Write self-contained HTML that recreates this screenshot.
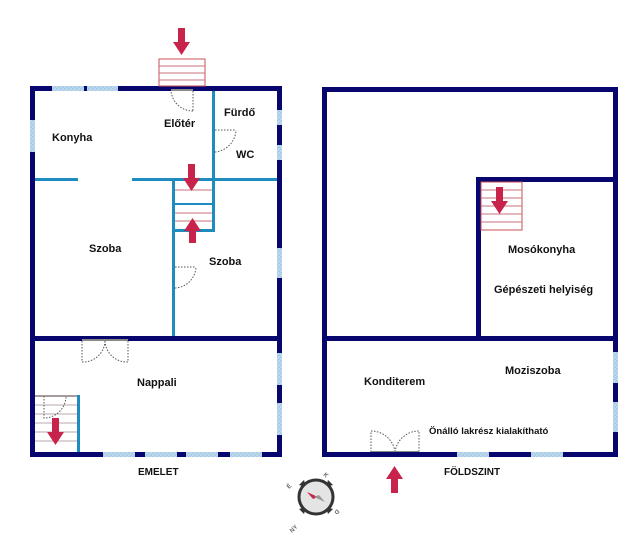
<!DOCTYPE html>
<html><head><meta charset="utf-8"><style>
html,body{margin:0;padding:0;background:#fff;}
svg{display:block;}
text{font-family:"Liberation Sans","DejaVu Sans",sans-serif;font-weight:bold;font-size:11px;fill:#111;}
</style></head><body>
<svg width="640" height="548" viewBox="0 0 640 548" xmlns="http://www.w3.org/2000/svg">
<defs>
<pattern id="h" width="4" height="4" patternUnits="userSpaceOnUse"><rect width="4" height="4" fill="#a9cde6"/><path d="M0 4L4 0" stroke="#c7e0f0" stroke-width="1"/></pattern>
</defs>
<g fill="#06066e">
<rect x="30" y="86" width="252" height="5"/>
<rect x="30" y="86" width="5" height="371"/>
<rect x="277" y="86" width="5" height="371"/>
<rect x="30" y="452" width="252" height="5"/>
<rect x="30" y="336" width="252" height="5"/>
</g>
<g fill="url(#h)">
<rect x="52" y="86" width="32" height="5"/><rect x="87" y="86" width="31" height="5"/>
<rect x="30" y="120" width="5" height="32"/>
<rect x="277" y="110" width="5" height="15"/><rect x="277" y="145" width="5" height="15"/>
<rect x="277" y="248" width="5" height="30"/>
<rect x="277" y="353" width="5" height="32"/><rect x="277" y="403" width="5" height="32"/>
<rect x="103" y="452" width="32" height="5"/><rect x="145" y="452" width="32" height="5"/>
<rect x="186" y="452" width="32" height="5"/><rect x="230" y="452" width="32" height="5"/>
</g>
<g fill="#1f8cc0">
<rect x="35" y="178" width="43" height="3"/>
<rect x="132" y="178" width="145" height="3"/>
<rect x="212" y="91" width="3" height="140"/>
<rect x="172" y="178" width="3" height="158"/>
<rect x="172" y="229" width="43" height="3"/>
<rect x="172" y="203" width="43" height="2"/>
<rect x="77" y="395" width="3" height="57"/>
</g>
<g stroke="#c8707a" stroke-width="1">
<line x1="175" y1="190" x2="212" y2="190"/>
<line x1="175" y1="213" x2="212" y2="213"/>
<line x1="175" y1="221" x2="212" y2="221"/>
</g>
<g stroke="#b8a8a8" stroke-width="1">
<line x1="35" y1="405" x2="77" y2="405"/><line x1="35" y1="414" x2="77" y2="414"/>
<line x1="35" y1="423" x2="77" y2="423"/><line x1="35" y1="432" x2="77" y2="432"/>
<line x1="35" y1="441" x2="77" y2="441"/>
</g>
<line x1="35" y1="396" x2="77" y2="396" stroke="#8a7a7a" stroke-width="1.5"/>
<rect x="159" y="59" width="46" height="27" fill="#fff" stroke="#c8505a" stroke-width="1"/>
<g stroke="#c8707a"><line x1="159" y1="66" x2="205" y2="66"/><line x1="159" y1="73" x2="205" y2="73"/><line x1="159" y1="80" x2="205" y2="80"/></g>
<g fill="none" stroke="#555" stroke-width="1" stroke-dasharray="1.5,1.5">
<path d="M193 111 A22 22 0 0 1 171 91"/><line x1="193" y1="91" x2="193" y2="111"/>
<path d="M215 152 A23 23 0 0 0 236 130"/><line x1="215" y1="130" x2="236" y2="130"/>
<path d="M175 288 A22 22 0 0 0 196 267"/><line x1="175" y1="267" x2="196" y2="267"/>
<path d="M82 341 L82 362 A22 22 0 0 0 105 341"/><path d="M105 341 A22 22 0 0 0 128 362 L128 341"/>
<path d="M44 396 L44 418 A22 22 0 0 0 66 396"/>
<path d="M371 452 L371 431 A24 24 0 0 1 395 452"/><path d="M395 452 A24 24 0 0 1 419 431 L419 452"/>
</g>
<g fill="#888"><rect x="82" y="339" width="46" height="2"/><rect x="371" y="451" width="48" height="2"/><rect x="171" y="89" width="22" height="2"/></g>
<g fill="#06066e">
<rect x="322" y="87" width="296" height="5"/>
<rect x="322" y="87" width="5" height="370"/>
<rect x="613" y="87" width="5" height="370"/>
<rect x="322" y="452" width="296" height="5"/>
<rect x="322" y="336" width="296" height="5"/>
<rect x="476" y="177" width="142" height="5"/>
<rect x="476" y="177" width="5" height="164"/>
</g>
<g fill="url(#h)">
<rect x="613" y="352" width="5" height="31"/><rect x="613" y="402" width="5" height="30"/>
<rect x="457" y="452" width="32" height="5"/><rect x="531" y="452" width="32" height="5"/>
</g>
<rect x="481" y="182" width="41" height="48" fill="none" stroke="#c8505a"/>
<g stroke="#c8707a"><line x1="481" y1="190" x2="522" y2="190"/><line x1="481" y1="198" x2="522" y2="198"/><line x1="481" y1="206" x2="522" y2="206"/><line x1="481" y1="214" x2="522" y2="214"/><line x1="481" y1="222" x2="522" y2="222"/></g>
<g fill="#c8234a">
<path d="M178 28h7v14h5l-8.5 13l-8.5-13h5z"/>
<path d="M188 164h7v14h5l-8.5 13l-8.5-13h5z"/>
<path d="M189 243h7v-12h5l-8.5-13l-8.5 13h5z"/>
<path d="M52 418h7v14h5l-8.5 13l-8.5-13h5z"/>
<path d="M496 187h7v14h5l-8.5 13l-8.5-13h5z"/>
<path d="M391 493h7v-14h5l-8.5-13l-8.5 13h5z"/>
</g>
<text x="52" y="141">Konyha</text>
<text x="164" y="127">Előtér</text>
<text x="224" y="116">Fürdő</text>
<text x="236" y="158">WC</text>
<text x="89" y="252">Szoba</text>
<text x="209" y="265">Szoba</text>
<text x="137" y="386">Nappali</text>
<text x="138" y="475" style="font-size:10px">EMELET</text>
<text x="508" y="253">Mosókonyha</text>
<text x="494" y="293">Gépészeti helyiség</text>
<text x="364" y="385">Konditerem</text>
<text x="505" y="374">Moziszoba</text>
<text x="429" y="434" style="font-size:9.5px">Önálló lakrész kialakítható</text>
<text x="444" y="475" style="font-size:10px">FÖLDSZINT</text>
<g transform="translate(316,497)">
<g fill="#333">
<path d="M-12 -17L-17 -12L-10 -10z"/>
<path d="M12 -17L17 -12L10 -10z"/>
<path d="M12 17L17 12L10 10z"/>
<path d="M-12 17L-17 12L-10 10z"/>
</g>
<circle r="17" fill="#e4e4e4" stroke="#333" stroke-width="3"/>
<path d="M-9 -5L2 0L-3 2z" fill="#c8234a"/>
<path d="M9 5L-2 0L3 -2z" fill="#999"/>
<text x="0" y="0" style="font-size:6px;fill:#666" transform="translate(-27,-8) rotate(-45)">É</text>
<text x="0" y="0" style="font-size:6px;fill:#666" transform="translate(7,-22) rotate(45)">K</text>
<text x="0" y="0" style="font-size:6px;fill:#666" transform="translate(21,12) rotate(135)">D</text>
<text x="0" y="0" style="font-size:6px;fill:#666" transform="translate(-24,36) rotate(-45)">NY</text>
</g>
</svg>
</body></html>
